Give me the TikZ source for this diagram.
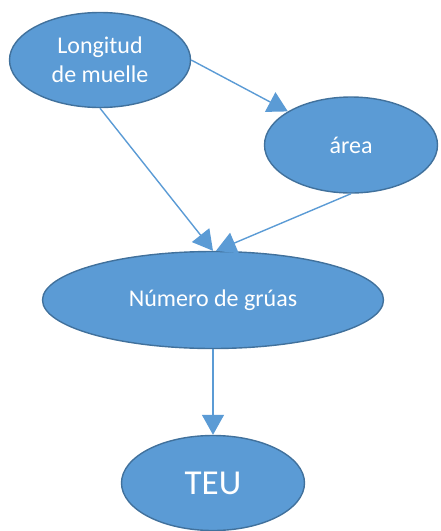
\documentclass[tikz,border=0pt]{standalone}
\usepackage{fontspec}
\setmainfont{Carlito}
\usetikzlibrary{shapes.geometric}
\usetikzlibrary{arrows.meta}

\definecolor{nodefill}{HTML}{5B9BD5}
\definecolor{nodeline}{HTML}{41719C}

\tikzset{
  bubble/.style={ellipse, fill=nodefill, draw=nodeline, line width=1.4pt, text=white,
    inner sep=0pt, align=center, font=\fontsize{24}{29}\selectfont},
  link/.style={nodefill, line width=1.4pt, -{Triangle[width=22pt,length=20pt]}}
}

\begin{document}
\begin{tikzpicture} [x=1pt, y=-1pt]
\useasboundingbox (0,0) rectangle (440,531);

\node[bubble, minimum width=181pt, minimum height=95pt] (lm) at (100,60) {Longitud\\de muelle};
\node[bubble, minimum width=173pt, minimum height=96pt] (ar) at (351,145) {área};
\node[bubble, minimum width=341pt, minimum height=97pt] (ng) at (213,300) {Número de grúas};
\node[bubble, minimum width=183pt, minimum height=95pt, font=\fontsize{35}{40}\selectfont] (te) at (213,483) {TEU};

\draw[link] (lm.east) -- (ar);
\draw[link] (lm.south) -- (ng.north);
\draw[link] (ar.south) -- ([xshift=3pt]ng.north);
\draw[link] (ng.south) -- (te.north);

\end{tikzpicture}
\end{document}
